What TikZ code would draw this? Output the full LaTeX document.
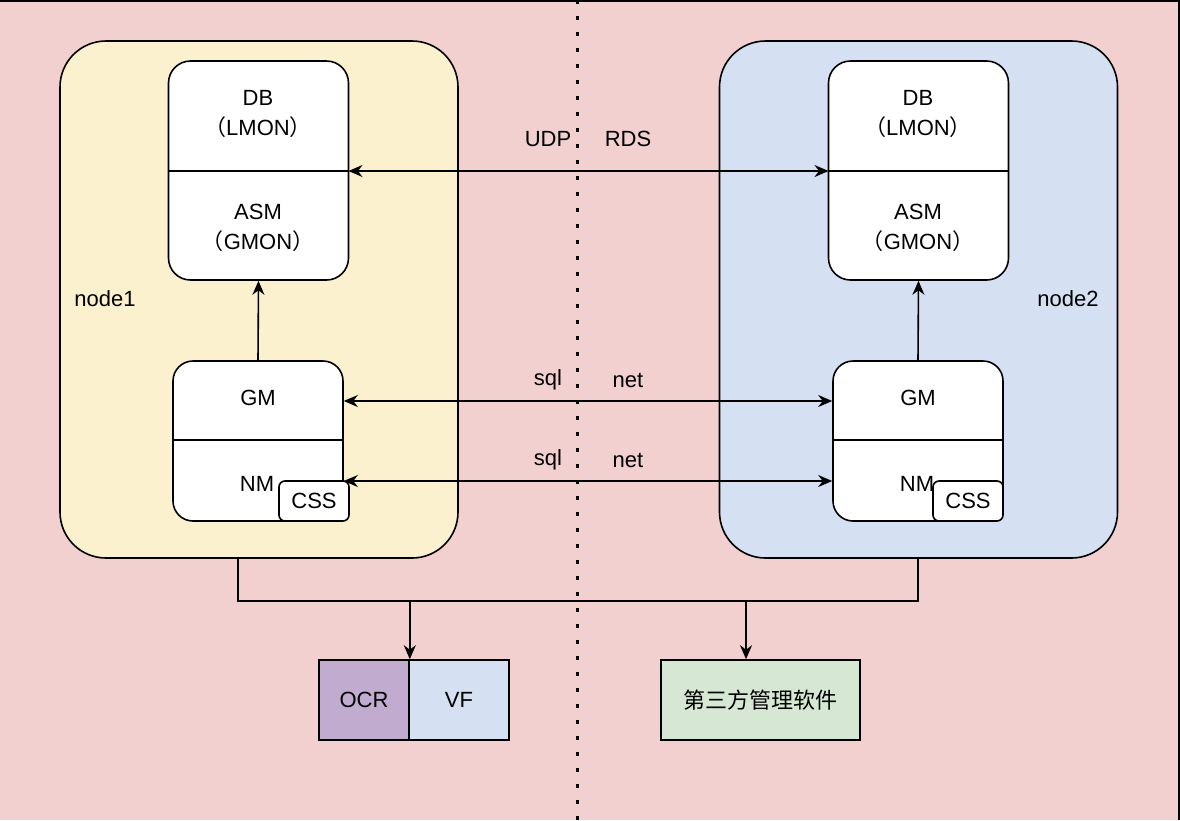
\documentclass[tikz,border=0pt]{standalone}
\usepackage{fontspec}
\setmainfont{Liberation Sans}
\newfontfamily\cjk{Noto Sans CJK SC}
\usetikzlibrary{arrows.meta}
\definecolor{bgpink}{RGB}{241,208,207}
\definecolor{yel}{RGB}{251,241,207}
\definecolor{blu}{RGB}{213,225,242}
\definecolor{purp}{RGB}{193,171,207}
\definecolor{grn}{RGB}{214,232,212}
\newcommand{\fl}{{\cjk （}}
\newcommand{\fr}{{\cjk ）}}
\begin{document}
\begin{tikzpicture}[x=1pt,y=-1pt,
  font=\fontsize{22}{30}\selectfont,
  line width=1.6pt,
  tipend/.style={-{Stealth[length=14pt,width=12pt,inset=4.5pt]}},
  tipboth/.style={{Stealth[length=14pt,width=12pt,inset=4.5pt]}-{Stealth[length=14pt,width=12pt,inset=4.5pt]}},
  outerbox/.style={draw, rounded corners=46, inner sep=0, minimum width=398, minimum height=517},
  procbox/.style={draw, fill=white, rounded corners=22, inner sep=0, minimum width=180, minimum height=219},
  gmbox/.style={draw, fill=white, rounded corners=20, inner sep=0, minimum width=170, minimum height=160},
  cssbox/.style={draw, fill=white, rounded corners=6, inner sep=0, minimum width=70, minimum height=40},
  plainbox/.style={draw, inner sep=0, minimum height=80},
  txt/.style={inner sep=0, align=center}
]
\useasboundingbox (0,0) rectangle (1180,820);
\fill[bgpink] (0,0) rectangle (1180,820);
\draw[line width=2] (0,0.8) -- (1179,0.8) -- (1179,820);

% outer node boxes
\node[outerbox, fill=yel] (n1) at (259,299.5) {};
\node[outerbox, fill=blu] (n2) at (918.5,299.5) {};
\node[txt] (n1t) at (105,299) {node1};
\node[txt] (n2t) at (1068,299) {node2};

% dotted separator
\coordinate (dtop) at (577.5,0);
\coordinate (dbot) at (577.5,820);
\draw[line width=3.6, dash pattern=on 3.6pt off 12.4pt] (dtop) -- (dbot);

% DB/ASM boxes
\node[procbox] (dbL) at (258.5,170.5) {};
\node[procbox] (dbR) at (918.5,170.5) {};
\coordinate (divL1) at (168.5,171); \coordinate (divL2) at (348.5,171);
\coordinate (divR1) at (828.5,171); \coordinate (divR2) at (1008.5,171);
\draw (divL1) -- (divL2);
\draw (divR1) -- (divR2);
\node[txt] (dbLt) at (258,114) {DB\\\fl LMON\fr};
\node[txt] (asmLt) at (258,228) {ASM\\\fl GMON\fr};
\node[txt] (dbRt) at (918,114) {DB\\\fl LMON\fr};
\node[txt] (asmRt) at (918,228) {ASM\\\fl GMON\fr};

% GM/NM boxes
\node[gmbox] (gmL) at (258,441) {};
\node[gmbox] (gmR) at (918,441) {};
\coordinate (gdL1) at (173,440); \coordinate (gdL2) at (343,440);
\coordinate (gdR1) at (833,440); \coordinate (gdR2) at (1003,440);
\draw (gdL1) -- (gdL2);
\draw (gdR1) -- (gdR2);
\node[txt] (gmLt) at (258,398) {GM};
\node[txt] (gmRt) at (918,398) {GM};
\node[txt] (nmLt) at (257,484) {NM};
\node[txt] (nmRt) at (917,484) {NM};
\node[cssbox] (cssL) at (314,501) {CSS};
\node[cssbox] (cssR) at (968,501) {CSS};

% vertical arrows GM -> ASM
\draw[tipend] (gmL.north) -- (dbL.south);
\draw[tipend] (gmR.north) -- (dbR.south);

% horizontal bidirectional arrows
\draw[tipboth] (divL2) -- (divR1);
\coordinate (gmy) at (0,401);
\coordinate (nmy) at (0,481);
\draw[tipboth] (gmL.east |- gmy) -- (gmR.west |- gmy);
\draw[tipboth] (gmL.east |- nmy) -- (gmR.west |- nmy);

% labels
\node[txt] (udp) at (548,139) {UDP};
\node[txt] (rds) at (628,139) {RDS};
\node[txt] (sql1) at (548,380) {sql};
\node[txt] (net1) at (628,380) {net};
\node[txt] (sql2) at (548,460) {sql};
\node[txt] (net2) at (628,460) {net};

% bottom boxes
\node[plainbox, fill=purp, minimum width=90] (ocr) at (364,700) {OCR};
\node[plainbox, fill=blu, minimum width=100] (vf) at (459,700) {VF};
\node[plainbox, fill=grn, minimum width=199] (sw) at (760.5,700) {\cjk 第三方管理软件};

% bottom connectors
\coordinate (j1) at (238,601);
\coordinate (j2) at (918,601);
\coordinate (j3) at (746,601);
\draw (n1.south -| j1) -- (j1) -- (j2) -- (n2.south -| j2);
\draw[tipend] (ocr.north east |- j1) -- (ocr.north east);
\draw[tipend] (j3) -- (sw.north -| j3);
\end{tikzpicture}
\end{document}
